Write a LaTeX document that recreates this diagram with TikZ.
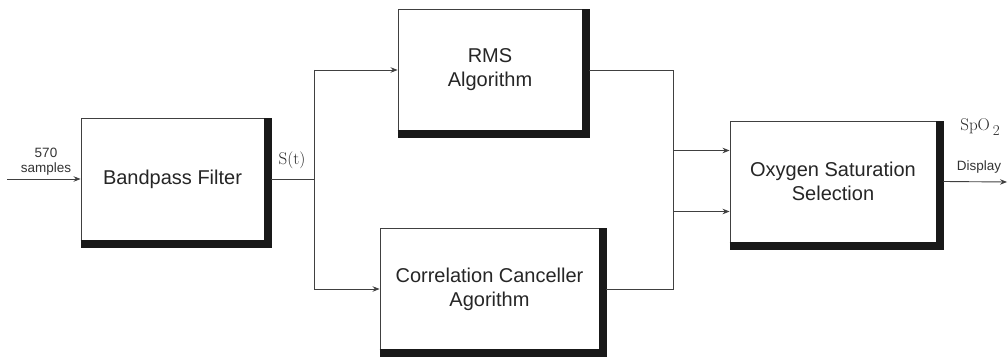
\documentclass[tikz,border=0pt]{standalone}
\usepackage{fontspec}
\setmainfont{Liberation Sans}
\newfontfamily\lmr{Latin Modern Roman}
\usetikzlibrary{arrows.meta}
\tikzset{
  blk/.style={draw=black!75, line width=0.9pt, fill=white, inner sep=0pt,
    align=center, text=black!85, font=\fontsize{20}{24}\selectfont},
  wire/.style={draw=black!75, line width=0.9pt},
  arr/.style={wire, -{Stealth[length=7pt,width=5.5pt]}},
  shd/.style={draw=black!90, line width=8pt, line join=miter},
  small/.style={font=\fontsize{13.5}{15}\selectfont, text=black!80, inner sep=0pt},
  serif/.style={font=\lmr\fontsize{17}{19}\selectfont, text=black!85, inner sep=0pt}
}
\newcommand{\boxshadow}[1]{%
  \draw[shd] ([yshift=-3.5pt]#1.south west) -- ([xshift=3.5pt,yshift=-3.5pt]#1.south east) -- ([xshift=3.5pt]#1.north east);}
\begin{document}
\begin{tikzpicture}[x=1pt,y=-1pt]
\useasboundingbox (0,0) rectangle (1008,358);
% boxes
\node[blk, minimum width=183pt, minimum height=122pt] (bp) at (172.5,179) {Bandpass Filter};
\node[blk, minimum width=184pt, minimum height=121pt] (rms) at (490,70) {RMS\\Algorithm};
\node[blk, minimum width=219pt, minimum height=121pt] (cc) at (489.5,289) {Correlation Canceller\\Agorithm};
\node[blk, minimum width=206pt, minimum height=121pt] (ox) at (833,181.5) {Oxygen Saturation\\Selection};
\boxshadow{bp}
\boxshadow{rms}
\boxshadow{cc}
\boxshadow{ox}
% coordinates
\coordinate (in) at (7,179);
\coordinate (j) at (314,179);
\coordinate (jt) at (314,70);
\coordinate (jb) at (314,289);
\coordinate (m) at (673,70);
\coordinate (mb) at (673,289);
\coordinate (out) at (1007,182);
% connectors
\draw[arr] (in) -- (bp.west);
\draw[wire] ([xshift=7pt]bp.east) -- (j);
\draw[wire] (jt) -- (jb);
\draw[arr] (jt) -- (rms.west);
\draw[arr] (jb) -- (cc.west);
\draw[arr] ([xshift=7pt]rms.east) -- (m) |- ([yshift=-30pt]ox.west);
\draw[arr] ([xshift=7pt]cc.east) -- (mb) |- ([yshift=31pt]ox.west);
\draw[arr] ([xshift=7pt]ox.east) -- (out);
% labels
\node[small] (l570) at (46,153) {570};
\node[small] (lsam) at (46,169.5) {samples};
\node[serif] (lst) at (292,160) {S(t)};
\node[serif] (lspo) at (980,127) {SpO\,\raisebox{-5pt}{\fontsize{15}{17}\selectfont 2}};
\node[small] (ldisp) at (979,167) {Display};
\end{tikzpicture}
\end{document}
